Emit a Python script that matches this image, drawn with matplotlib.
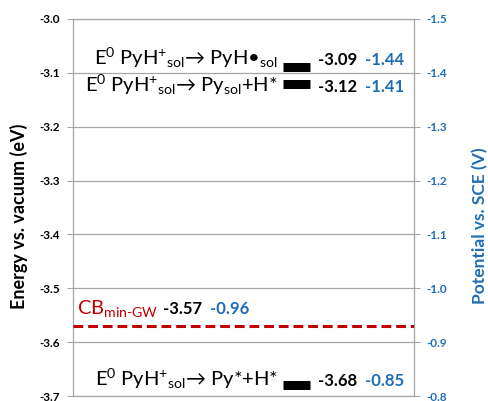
import matplotlib
matplotlib.use("Agg")
import matplotlib.pyplot as plt

plt.rcParams['font.family'] = ['Lato', 'DejaVu Sans']
plt.rcParams['mathtext.fontset'] = 'custom'
plt.rcParams['mathtext.rm'] = 'Lato'
plt.rcParams['mathtext.it'] = 'Lato:italic'
plt.rcParams['mathtext.bf'] = 'Lato:bold'

# data
level_labels = [r"E$^{0}$ PyH$^{+}{}_{\mathrm{sol}}$→ PyH•$_{\mathrm{sol}}$",
                r"E$^{0}$ PyH$^{+}{}_{\mathrm{sol}}$→ Py$_{\mathrm{sol}}$+H*",
                r"E$^{0}$ PyH$^{+}{}_{\mathrm{sol}}$→ Py*+H*"]
energies = [-3.09, -3.12, -3.68]
potentials = [-1.44, -1.41, -0.85]
cb_label = r"CB$_{\mathrm{min\text{-}GW}}$"
cb_energy = -3.57
cb_potential = -0.96
left_ticks = [-3.0, -3.1, -3.2, -3.3, -3.4, -3.5, -3.6, -3.7]
right_ticks = [-1.5, -1.4, -1.3, -1.2, -1.1, -1.0, -0.9, -0.8]

BLUE = '#1F6EB5'
RED = '#C00000'
GRID = '#A6A6A6'

fig = plt.figure(figsize=(4.89, 4.01), dpi=100)
ax = fig.add_axes([0.149, 0.012, 0.698, 0.941])
ax.set_xlim(0, 1)
ax.set_ylim(-3.7, -3.0)
ax.set_yticks(left_ticks)
ax.set_yticklabels([f"{t:.1f}" for t in left_ticks], fontsize=8.5, fontweight='bold')
ax.set_xticks([])
ax.yaxis.grid(True, color=GRID, lw=0.9)
ax.set_axisbelow(True)
for s in ax.spines.values():
    s.set_color(GRID)
    s.set_linewidth(0.9)
ax.tick_params(axis='y', length=4, color=GRID, pad=5)

ax2 = ax.twinx()
ax2.set_ylim(-0.8, -1.5)
ax2.set_yticks(right_ticks)
ax2.set_yticklabels([f"{t:.1f}" for t in right_ticks],
                    fontsize=8.5, fontweight='bold', color=BLUE)
for s in ax2.spines.values():
    s.set_visible(False)
ax2.tick_params(axis='y', length=4, color=GRID, pad=5)

# axis titles placed by their centres
fig.text(0.0378, 0.461, "Energy vs. vacuum (eV)", fontsize=13, fontweight='bold',
         rotation=90, ha='center', va='center', rotation_mode='anchor')
fig.text(0.9816, 0.436, "Potential vs. SCE (V)", fontsize=12.5, fontweight='bold',
         color=BLUE, rotation=90, ha='center', va='center', rotation_mode='anchor')

# offsets for label baselines (style)
label_dy = [0.005, -0.015, -0.001]
for lab, e, p, dy in zip(level_labels, energies, potentials, label_dy):
    ax.plot([0.616, 0.695], [e, e], color='black', lw=6.5, solid_capstyle='butt',
            zorder=3)
    ax.text(0.6, e + dy, lab, ha='right', va='baseline', fontsize=14.5, color='black')
    ax.text(0.718, e + dy, f"{e:.2f}", ha='left', va='baseline', fontsize=12,
            fontweight='bold', color='black')
    ax.text(0.856, e + dy, f"{p:.2f}", ha='left', va='baseline', fontsize=12,
            fontweight='bold', color=BLUE)

ax.axhline(cb_energy, color=RED, lw=2.2, ls=(0, (3.2, 1.6)), zorder=3)
ax.text(0.012, cb_energy + 0.023, cb_label, ha='left', va='baseline', fontsize=14.5,
        color=RED)
ax.text(0.265, cb_energy + 0.023, f"{cb_energy:.2f}", ha='left', va='baseline',
        fontsize=12, fontweight='bold', color='black')
ax.text(0.402, cb_energy + 0.023, f"{cb_potential:.2f}", ha='left', va='baseline',
        fontsize=12, fontweight='bold', color=BLUE)

fig.savefig("out.png", dpi=100)
